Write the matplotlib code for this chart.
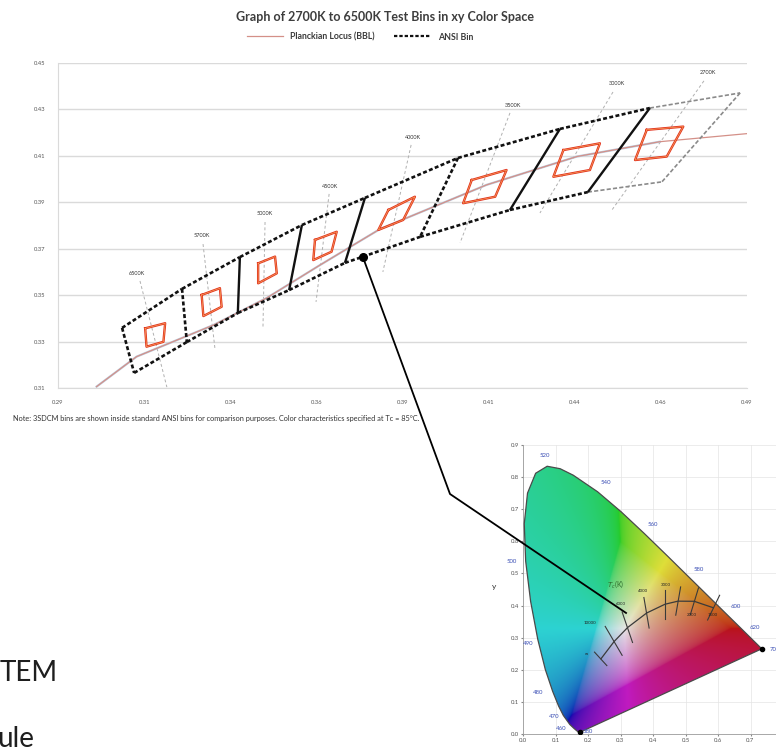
import numpy as np
import matplotlib
matplotlib.use("Agg")
import matplotlib.pyplot as plt
from matplotlib.lines import Line2D
from matplotlib.patches import Polygon

plt.rcParams['font.family'] = ['Lato', 'DejaVu Sans']

# ---- main chart data ----
bin_names = ['6500K', '5700K', '5000K', '4500K', '4000K', '3500K', '3000K', '2700K']

# shared corners of the ANSI quadrangles, upper and lower chain
top_x = [0.3086, 0.3260, 0.3428, 0.3608, 0.3791, 0.4061, 0.4357, 0.4618, 0.4880]
top_y = [0.3359, 0.3527, 0.3664, 0.3802, 0.3919, 0.4091, 0.4216, 0.4306, 0.4371]
bot_x = [0.3121, 0.3274, 0.3422, 0.3571, 0.3733, 0.3951, 0.4212, 0.4438, 0.4653]
bot_y = [0.3165, 0.3298, 0.3423, 0.3522, 0.3639, 0.3751, 0.3867, 0.3944, 0.3988]

# test bins (red), corners TL, TR, BR, BL
test_x = [[0.3153, 0.3211, 0.3206, 0.3157],
          [0.3317, 0.3370, 0.3375, 0.3322],
          [0.3481, 0.3530, 0.3535, 0.3481],
          [0.3646, 0.3709, 0.3694, 0.3641],
          [0.3859, 0.3936, 0.3902, 0.3830],
          [0.4101, 0.4202, 0.4169, 0.4076],
          [0.4367, 0.4473, 0.4444, 0.4338],
          [0.4609, 0.4715, 0.4667, 0.4575]]
test_y = [[0.3357, 0.3379, 0.3299, 0.3278],
          [0.3501, 0.3530, 0.3450, 0.3410],
          [0.3637, 0.3666, 0.3594, 0.3551],
          [0.3738, 0.3773, 0.3687, 0.3651],
          [0.3867, 0.3924, 0.3824, 0.3781],
          [0.3996, 0.4039, 0.3924, 0.3896],
          [0.4125, 0.4154, 0.4039, 0.4010],
          [0.4212, 0.4226, 0.4097, 0.4082]]

# Planckian locus
bbl_x = [0.3012, 0.3128, 0.3351, 0.3506, 0.3661, 0.3835, 0.4144, 0.4406, 0.4647, 0.4909]
bbl_y = [0.3106, 0.3235, 0.3371, 0.3488, 0.3630, 0.3785, 0.3975, 0.4097, 0.4161, 0.4197]

# isotherm guide lines and their labels
iso_top_x = [0.3138, 0.3321, 0.3501, 0.3687, 0.3925, 0.4212, 0.4511, 0.4775]
iso_top_y = [0.3561, 0.3720, 0.3815, 0.3936, 0.4147, 0.4285, 0.4375, 0.4423]
iso_bot_x = [0.3216, 0.3356, 0.3495, 0.3649, 0.3843, 0.4067, 0.4299, 0.4508]
iso_bot_y = [0.3104, 0.3264, 0.3363, 0.3471, 0.3600, 0.3725, 0.3854, 0.3867]
lab_x = [0.3129, 0.3318, 0.3501, 0.3690, 0.3930, 0.4221, 0.4523, 0.4787]
lab_y = [0.3595, 0.3755, 0.3850, 0.3970, 0.4181, 0.4319, 0.4410, 0.4457]

x_ticks = [0.29, 0.315, 0.34, 0.365, 0.39, 0.415, 0.44, 0.465, 0.49]
x_tick_labels = ['0.29', '0.31', '0.34', '0.36', '0.39', '0.41', '0.44', '0.46', '0.49']
y_ticks = [0.31, 0.33, 0.35, 0.37, 0.39, 0.41, 0.43, 0.45]
y_tick_labels = ['0.31', '0.33', '0.35', '0.37', '0.39', '0.41', '0.43', '0.45']

# marked point and where the pointer lands in the CIE inset
dot_x, dot_y = 0.3785, 0.3664
pointer_end_x, pointer_end_y = 0.317, 0.377

# ---- CIE 1931 inset data ----
locus_nm = [380, 420, 440, 450, 460, 470, 475, 480, 485, 490, 495, 500, 505, 510, 515,
            520, 525, 530, 540, 550, 560, 570, 580, 590, 600, 610, 620, 640, 660, 700]
locus_x = [0.1741, 0.1714, 0.1644, 0.1566, 0.1440, 0.1241, 0.1096, 0.0913, 0.0687, 0.0454,
           0.0235, 0.0082, 0.0039, 0.0139, 0.0389, 0.0743, 0.1142, 0.1547, 0.2296, 0.3016,
           0.3731, 0.4441, 0.5125, 0.5752, 0.6270, 0.6658, 0.6915, 0.7190, 0.7300, 0.7347]
locus_y = [0.0050, 0.0051, 0.0109, 0.0177, 0.0297, 0.0578, 0.0868, 0.1327, 0.2007, 0.2950,
           0.4127, 0.5384, 0.6548, 0.7502, 0.8120, 0.8338, 0.8262, 0.8059, 0.7543, 0.6923,
           0.6245, 0.5547, 0.4866, 0.4242, 0.3725, 0.3340, 0.3083, 0.2809, 0.2700, 0.2653]

wl_labels = ['520', '540', '560', '580', '600', '620', '700', '500', '490', '480', '470', '460', '380']
wl_x = [0.068, 0.254, 0.398, 0.542, 0.656, 0.712, 0.775, -0.035, 0.015, 0.046, 0.095, 0.118, 0.200]
wl_y = [0.866, 0.782, 0.651, 0.511, 0.397, 0.333, 0.262, 0.537, 0.283, 0.128, 0.053, 0.018, 0.007]

ins_bbl_x = [0.2399, 0.2807, 0.3221, 0.3805, 0.4369, 0.4769, 0.5267, 0.5857]
ins_bbl_y = [0.2342, 0.2884, 0.3318, 0.3768, 0.4041, 0.4137, 0.4133, 0.3931]
ins_iso_x0 = [0.220, 0.253, 0.305, 0.372, 0.437, 0.485, 0.540, 0.605]
ins_iso_y0 = [0.255, 0.335, 0.380, 0.425, 0.450, 0.458, 0.455, 0.432]
ins_iso_x1 = [0.258, 0.305, 0.337, 0.388, 0.437, 0.470, 0.515, 0.568]
ins_iso_y1 = [0.213, 0.245, 0.285, 0.330, 0.358, 0.370, 0.372, 0.355]
cct_labels = ['\u221e', '10000', '6000', '4000', '3000', '2000', '1500']
cct_x = [0.195, 0.205, 0.300, 0.370, 0.440, 0.520, 0.585]
cct_y = [0.250, 0.345, 0.405, 0.445, 0.463, 0.370, 0.372]

ins_x_ticks = [0.0, 0.1, 0.2, 0.3, 0.4, 0.5, 0.6, 0.7, 0.8]
ins_y_ticks = [0.0, 0.1, 0.2, 0.3, 0.4, 0.5, 0.6, 0.7, 0.8, 0.9]

title = 'Graph of 2700K to 6500K Test Bins in xy Color Space'
note = ('Note: 3SDCM bins are shown inside standard ANSI bins for comparison purposes. '
        'Color characteristics specified at Tc = 85\u00b0C.')

W, H = 776, 747
fig = plt.figure(figsize=(W / 100, H / 100), dpi=100)

# ---------------- main chart ----------------
ax = fig.add_axes([58 / W, 1 - 388 / H, 689 / W, 325 / H])
ax.set_xlim(0.29, 0.49)
ax.set_ylim(0.31, 0.45)
ax.set_xticks(x_ticks)
ax.set_xticklabels(x_tick_labels)
ax.set_yticks(y_ticks)
ax.set_yticklabels(y_tick_labels)
ax.tick_params(length=0, labelsize=4.2, labelcolor='#555555', pad=9)
ax.yaxis.grid(True, color='#dadada', lw=1.0)
ax.set_axisbelow(True)
for s in ['top', 'right']:
    ax.spines[s].set_visible(False)
for s in ['left', 'bottom']:
    ax.spines[s].set_color('#dadada')

for i in range(len(bin_names)):
    ax.plot([iso_top_x[i], iso_bot_x[i]], [iso_top_y[i], iso_bot_y[i]],
            color='#b0b0b0', lw=0.7, ls=(0, (3, 2.5)), zorder=2)
    ax.text(lab_x[i], lab_y[i], bin_names[i], fontsize=4, color='#333333',
            ha='center', va='center')

ax.plot(bbl_x[:-1], bbl_y[:-1], color='#b9cde0', lw=1.6, zorder=2)
bbl_line, = ax.plot(bbl_x, bbl_y, color='#d49088', lw=0.9, zorder=3)

black_dash = dict(color='#111111', lw=1.9, ls=(0, (1.5, 0.9)), zorder=4)
gray_dash = dict(color='#8a8a8a', lw=1.2, ls=(0, (2.5, 1.3)), zorder=4)
solid = dict(color='#111111', lw=1.7, solid_capstyle='butt', zorder=4)
divider_kind = ['dash', 'dash', 'solid', 'solid', 'solid', 'dash', 'solid', 'solid', 'gray']

for i in range(len(top_x) - 1):
    st = gray_dash if i == len(top_x) - 2 else black_dash
    ax.plot(top_x[i:i + 2], top_y[i:i + 2], **st)
    ax.plot(bot_x[i:i + 2], bot_y[i:i + 2], **st)
for i, kind in enumerate(divider_kind):
    st = {'dash': black_dash, 'solid': solid, 'gray': gray_dash}[kind]
    ax.plot([top_x[i], bot_x[i]], [top_y[i], bot_y[i]], **st)

for qx, qy in zip(test_x, test_y):
    ax.plot(qx + qx[:1], qy + qy[:1], color='#e2321f', lw=1.7, zorder=5)
    ax.plot(qx + qx[:1], qy + qy[:1], color='#f5a35a', lw=0.5, zorder=6)

ax.plot([dot_x], [dot_y], 'o', color='black', ms=5.5, zorder=7)

ansi_handle = Line2D([], [], color='#111111', lw=1.6, ls=(0, (1.5, 0.9)))
fig.legend([bbl_line, ansi_handle], ['Planckian Locus (BBL)', 'ANSI Bin'],
           loc='center', bbox_to_anchor=(360 / W, 1 - 37 / H), ncol=2, frameon=False,
           prop={'size': 6.3, 'weight': 'bold'}, handlelength=4.2, columnspacing=2.2,
           handletextpad=0.8, labelcolor='#3a3a3a')
fig.text(385 / W, 1 - 17 / H, title, ha='center', va='center', fontsize=9,
         fontweight='bold', color='#3d3d3d')
fig.text(13 / W, 1 - 419 / H, note, ha='left', va='center', fontsize=5.3, color='#333333')

# ---------------- CIE inset ----------------
ins = fig.add_axes([523 / W, 13 / H, 260 / W, 289 / H])
ins.set_xlim(0, 0.8)
ins.set_ylim(0, 0.9)

gx, gy = np.meshgrid(np.linspace(0.001, 0.8, 400), np.linspace(0.001, 0.9, 450))
xyz = np.stack([gx / gy, np.ones_like(gx), (1 - gx - gy) / gy], axis=-1)
m = np.array([[3.2406, -1.5372, -0.4986],
              [-0.9689, 1.8758, 0.0415],
              [0.0557, -0.2040, 1.0570]])
rgb = xyz @ m.T
rgb -= np.minimum(rgb.min(axis=-1, keepdims=True), 0)
rgb /= rgb.max(axis=-1, keepdims=True)
rgb = np.clip(rgb, 0, 1) ** (1 / 2.2)
# tone it down toward the softer printed look of the original figure
rgb[..., 2] = rgb[..., 2] ** 1.35
lum = (0.3 * rgb[..., 0] + 0.59 * rgb[..., 1] + 0.11 * rgb[..., 2])[..., None]
rgb = np.clip((lum + 0.72 * (rgb - lum)) * 0.9, 0, 1)
im = ins.imshow(rgb, origin='lower', extent=(0, 0.8, 0, 0.9), aspect='auto',
                interpolation='bilinear', zorder=2)
horseshoe = Polygon(np.column_stack([locus_x, locus_y]), closed=True, facecolor='none',
                    edgecolor='#4a4a4a', lw=0.9, zorder=3)
ins.add_patch(horseshoe)
im.set_clip_path(horseshoe)

ins.set_xticks(ins_x_ticks)
ins.set_xticklabels(['%.1f' % v for v in ins_x_ticks])
ins.set_yticks(ins_y_ticks)
ins.set_yticklabels(['%.1f' % v for v in ins_y_ticks])
ins.tick_params(labelsize=4.3, labelcolor='#555555', length=1.5, color='#888888', pad=1.5)
ins.grid(True, color='#e4e4e4', lw=0.5, zorder=0)
ins.set_axisbelow(True)
for s in ins.spines.values():
    s.set_color('#9a9a9a')
    s.set_linewidth(0.6)
ins.spines['top'].set_visible(False)
ins.spines['right'].set_visible(False)
ins.set_ylabel('y', fontsize=6, rotation=0, labelpad=12, color='#333333')

for t, x, y in zip(wl_labels, wl_x, wl_y):
    ins.text(x, y, t, fontsize=4.3, color='#3b4fb5', ha='center', va='center', zorder=6)
ins.plot([locus_x[0], locus_x[-1]], [locus_y[0], locus_y[-1]], 'o', color='black',
         ms=3, zorder=6)

ins.plot(ins_bbl_x, ins_bbl_y, color='#3a3a3a', lw=0.9, zorder=5)
for i in range(len(ins_iso_x0)):
    ins.plot([ins_iso_x0[i], ins_iso_x1[i]], [ins_iso_y0[i], ins_iso_y1[i]],
             color='#3a3a3a', lw=0.8, zorder=5)
for t, x, y in zip(cct_labels, cct_x, cct_y):
    ins.text(x, y, t, fontsize=3.2, color='#222222', ha='center', va='center', zorder=6)
ins.text(0.285, 0.467, r'$T_c$(K)', fontsize=5, color='#2c6a2c', ha='center',
         va='center', zorder=6)

# pointer from the marked bin point to the CIE diagram
inv = fig.transFigure.inverted()
p0 = inv.transform(ax.transData.transform((dot_x, dot_y)))
p2 = inv.transform(ins.transData.transform((pointer_end_x, pointer_end_y)))
bend = (450 / W, 1 - 494 / H)
fig.add_artist(Line2D([p0[0], bend[0], p2[0]], [p0[1], bend[1], p2[1]],
                      transform=fig.transFigure, color='black', lw=1.3, zorder=10))

# slide text cut off at the lower left
fig.text(0.0, 1 - 673 / H, 'TEM', fontsize=20, color='#1e1e1e', ha='left', va='center')
fig.text(-0.004, 0.0, 'ule', fontsize=20, color='#1e1e1e', ha='left', va='baseline')

fig.savefig('out.png', dpi=100)
